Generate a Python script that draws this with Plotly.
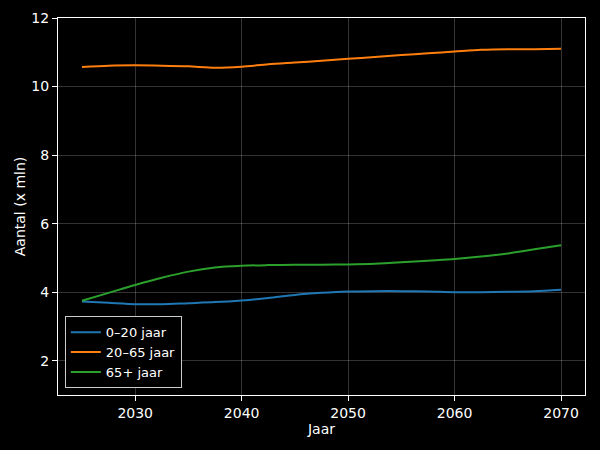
import plotly.graph_objects as go

# Bevolking naar leeftijdsgroep (x mln)
jaren = [2025, 2027.5, 2030, 2032.5, 2035, 2037.5, 2040, 2042.5, 2045, 2047.5,
         2050, 2052.5, 2055, 2057.5, 2060, 2062.5, 2065, 2067.5, 2070]
jong = [3.73, 3.69, 3.65, 3.65, 3.68, 3.71, 3.76, 3.83, 3.92, 3.98,
        4.02, 4.03, 4.03, 4.02, 4.00, 4.00, 4.01, 4.03, 4.07]
midden = [10.57, 10.61, 10.62, 10.61, 10.59, 10.55, 10.58, 10.65, 10.70, 10.75,
          10.81, 10.86, 10.92, 10.97, 11.02, 11.07, 11.09, 11.09, 11.10]
oud = [3.75, 3.98, 4.21, 4.42, 4.60, 4.72, 4.77, 4.79, 4.80, 4.80,
       4.81, 4.83, 4.87, 4.92, 4.97, 5.04, 5.13, 5.25, 5.37]

series = [("0–20 jaar", jong, "#1f77b4"),
          ("20–65 jaar", midden, "#ff7f0e"),
          ("65+ jaar", oud, "#2ca02c")]

fig = go.Figure()
for naam, waarden, kleur in series:
    fig.add_trace(go.Scatter(
        x=jaren, y=waarden, mode="lines", name=naam,
        line=dict(color=kleur, width=2, shape="spline", smoothing=0.8)
    ))

as_stijl = dict(
    showline=True, linecolor="white", linewidth=1, mirror=True,
    ticks="outside", tickcolor="white", ticklen=5, tickwidth=1,
    showgrid=True, gridcolor="rgba(255,255,255,0.2)", gridwidth=1,
    zeroline=False, color="white", automargin=False,
    tickfont=dict(size=14, color="white"),
)

fig.update_xaxes(as_stijl, range=[2022.75, 2072.25], tickvals=[2030, 2040, 2050, 2060, 2070],
                 title=dict(text="Jaar", font=dict(size=14, color="white"), standoff=3))
fig.update_yaxes(as_stijl, range=[1, 12], tickvals=[2, 4, 6, 8, 10, 12],
                 title=dict(text="Aantal (x mln)", font=dict(size=14, color="white"), standoff=2))

fig.update_layout(
    width=600, height=450,
    paper_bgcolor="black", plot_bgcolor="black",
    font=dict(family="DejaVu Sans", size=14, color="white"),
    margin=dict(l=58, r=15, t=18, b=55),
    legend=dict(
        x=0.013, y=0.018, xanchor="left", yanchor="bottom",
        bgcolor="black", bordercolor="#cccccc", borderwidth=1,
        font=dict(size=13, color="white"), tracegroupgap=0,
    ),
)

# pagina zonder witte rand
fig.write_html("out.html", config={"displayModeBar": False},
               post_script="document.body.style.margin='0';document.body.style.background='black';")
